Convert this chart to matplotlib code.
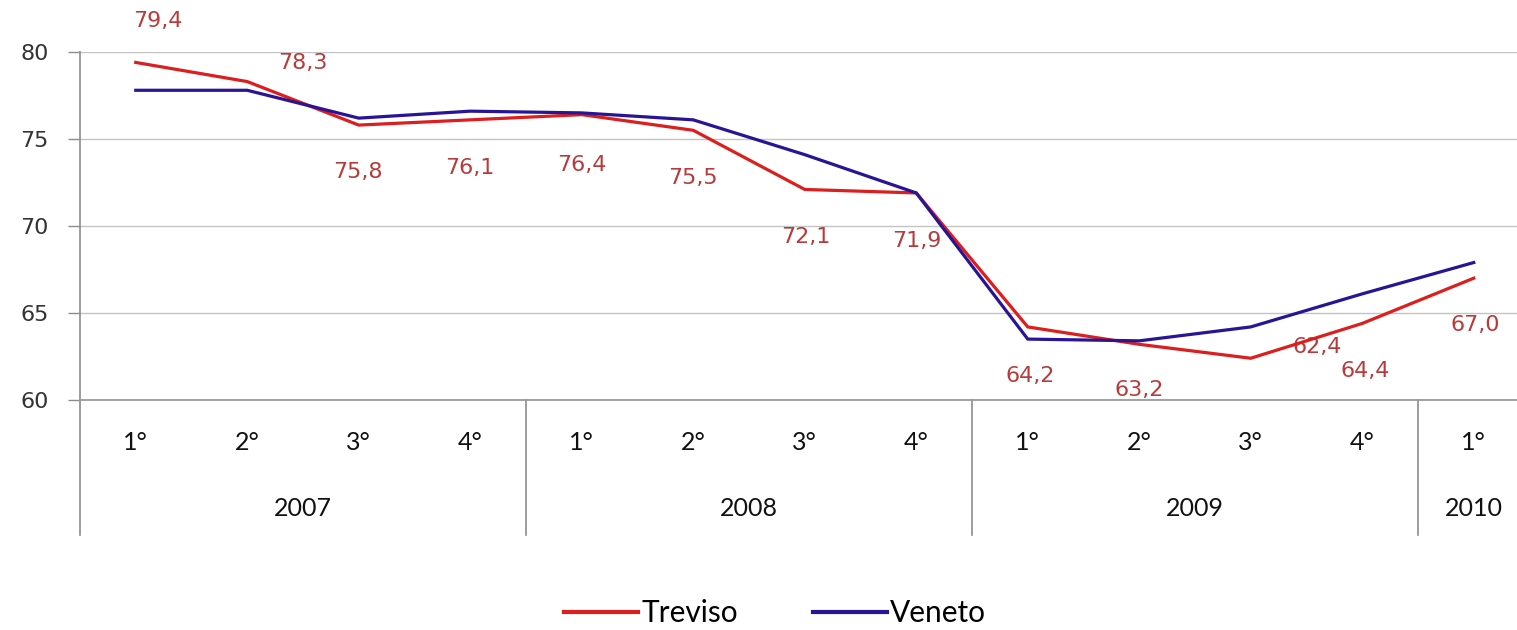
import matplotlib
matplotlib.use("Agg")
import matplotlib.pyplot as plt
from matplotlib.transforms import blended_transform_factory
from matplotlib.lines import Line2D

# ---- data ----
quarters = ["1°", "2°", "3°", "4°", "1°", "2°", "3°", "4°", "1°", "2°", "3°", "4°", "1°"]
years = ["2007", "2008", "2009", "2010"]
year_spans = [(0, 3), (4, 7), (8, 11), (12, 12)]
treviso = [79.4, 78.3, 75.8, 76.1, 76.4, 75.5, 72.1, 71.9, 64.2, 63.2, 62.4, 64.4, 67.0]
veneto = [77.8, 77.8, 76.2, 76.6, 76.5, 76.1, 74.1, 71.9, 63.5, 63.4, 64.2, 66.1, 67.9]
treviso_labels = ["79,4", "78,3", "75,8", "76,1", "76,4", "75,5", "72,1", "71,9",
                  "64,2", "63,2", "62,4", "64,4", "67,0"]
yticks = [60, 65, 70, 75, 80]

# label offsets in pixels (dx right, dy down) relative to each point
label_off_px = [(22, -41), (56, -19), (-1, 47), (0, 48), (0, 50), (0, 48), (1, 48),
                (1, 48), (2, 49), (0, 46), (66, -11), (3, 48), (2, 47)]

W, H = 1517, 630
fig = plt.figure(figsize=(W / 100, H / 100), dpi=100)
fig.patch.set_facecolor("white")

left_px, top_px, bottom_px = 80, 52, 400
cat_w = 111.5
ax = fig.add_axes([left_px / W, 1 - bottom_px / H, 13 * cat_w / W, (bottom_px - top_px) / H])
ax.set_xlim(-0.5, 12.5)
ax.set_ylim(60, 80)

red = "#dc1e1e"
blue = "#2a1496"
x = list(range(len(treviso)))
ax.plot(x, treviso, color=red, lw=2.3, zorder=4, solid_joinstyle="miter")
ax.plot(x, veneto, color=blue, lw=2.3, zorder=5, solid_joinstyle="miter")

# grid
ax.set_yticks(yticks)
ax.yaxis.grid(True, color="#c4c4c4", lw=1.0)
ax.set_axisbelow(True)
ax.set_xticks([])
for s in ["top", "right"]:
    ax.spines[s].set_visible(False)
ax.spines["left"].set_color("#8c8c8c")
ax.spines["left"].set_linewidth(1.2)
ax.spines["bottom"].set_color("#9a9a9a")
ax.spines["bottom"].set_linewidth(1.3)
ax.tick_params(axis="y", direction="out", length=8.6, width=1.0, color="#8c8c8c",
               pad=14, labelsize=16, labelcolor="#333333")
for lab in ax.get_yticklabels():
    lab.set_fontfamily("DejaVu Sans")

# data labels
for i, (v, t) in enumerate(zip(treviso, treviso_labels)):
    dx, dy = label_off_px[i]
    ax.annotate(t, (i, v), xytext=(dx * 0.72, -dy * 0.72), textcoords="offset points",
                ha="center", va="center", fontsize=16, color="#b83a3a",
                family="DejaVu Sans", zorder=3, annotation_clip=False)

# category axis
tr = blended_transform_factory(ax.transData, fig.transFigure)
cat_font = "Lato"
for i, q in enumerate(quarters):
    ax.text(i, 1 - 442 / H, q, transform=tr, ha="center", va="center",
            fontsize=18, family=cat_font, color="#111111")
for (a, b), yname in zip(year_spans, years):
    ax.text((a + b) / 2, 1 - 508 / H, yname, transform=tr, ha="center", va="center",
            fontsize=18, family=cat_font, color="#111111")
for sep in [-0.5, 3.5, 7.5, 11.5]:
    ax.add_line(Line2D([sep, sep], [1 - 400 / H, 1 - 535 / H], transform=tr,
                       color="#8c8c8c", lw=1.2, clip_on=False))

# legend
handles = [Line2D([], [], color=red, lw=3), Line2D([], [], color=blue, lw=3)]
fig.legend(handles, ["Treviso", "Veneto"], loc="center",
           bbox_to_anchor=(775 / W, 1 - 613 / H), ncol=2, frameon=False,
           prop={"family": cat_font, "size": 21.5}, handlelength=2.48,
           handletextpad=0.12, columnspacing=2.5)

fig.savefig("out.png", dpi=100, facecolor="white")
